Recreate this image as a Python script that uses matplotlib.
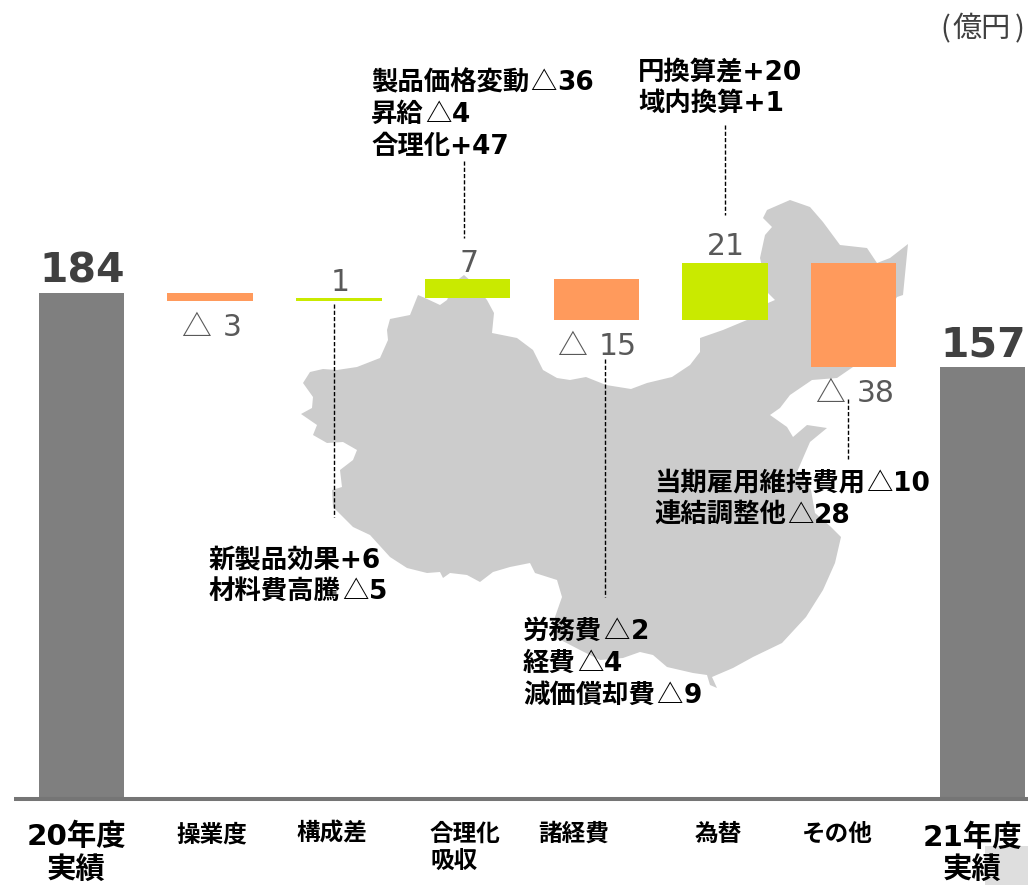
import matplotlib
matplotlib.use("Agg")
import matplotlib.pyplot as plt
from matplotlib.patches import Polygon, Rectangle

plt.rcParams['font.family'] = ['DejaVu Sans', 'Noto Sans CJK JP']

W, H = 1028, 885

# --- chart values (億円)
steps = ['20年度実績', '操業度', '構成差', '合理化吸収', '諸経費', '為替', 'その他', '21年度実績']
start_value = 184
deltas = [-3, 1, 7, -15, 21, -38]
end_value = 157
value_labels = ['184', '△ 3', '1', '7', '△ 15', '21', '△ 38', '157']

ORANGE = '#ff9a5c'
GREEN = '#c9ea00'
GRAY = '#7f7f7f'

# --- category labels: (text, x, y, size, ha)
category_text = [
    ('20年度', 76, 837, 21.2, 'center'), ('実績', 76, 870, 21.2, 'center'),
    ('操業度', 212, 834, 17, 'center'), ('構成差', 332, 834, 17, 'center'),
    ('合理化', 430, 834, 17, 'left'), ('吸収', 430, 861, 17, 'left'),
    ('諸経費', 574, 834, 17, 'center'), ('為替', 718, 834, 17, 'center'),
    ('その他', 837, 834, 17, 'center'),
    ('21年度', 972, 838, 21.2, 'center'), ('実績', 972, 870, 21.2, 'center'),
]

# --- breakdown notes: (left x, [(baseline y, text), ...])
notes = [
    (371, [(90, '製品価格変動△36'), (122, '昇給△4'), (154, '合理化+47')]),
    (638, [(79, '円換算差+20'), (111, '域内換算+1')]),
    (654, [(491, '当期雇用維持費用△10'), (523, '連結調整他△28')]),
    (209, [(567, '新製品効果+6'), (599, '材料費高騰△5')]),
    (523, [(639, '労務費△2'), (671, '経費△4'), (703, '減価償却費△9')]),
]

# --- dashed leader lines: (x, y top, y bottom)
leaders = [(334, 304, 517), (464, 161, 238), (605, 359, 597), (725, 125, 215), (848, 399, 459)]

# --- background map outline
map_outline = [
    (303, 383), (310, 372), (323, 369), (337, 370), (357, 367), (380, 358), (388, 340), (387, 330),
    (390, 319), (410, 315), (418, 295), (425, 298), (440, 305), (447, 300), (455, 282), (464, 275),
    (472, 282), (487, 300), (494, 313), (492, 333), (517, 338), (533, 350), (543, 370), (557, 378),
    (570, 380), (586, 377), (606, 385), (631, 389), (647, 383), (672, 377), (690, 365), (700, 352),
    (700, 338), (723, 330), (747, 320), (768, 303), (775, 300), (768, 293), (760, 258), (765, 235),
    (772, 227), (763, 218), (767, 210), (790, 200), (810, 207), (823, 222), (840, 245), (867, 248),
    (877, 263), (890, 258), (908, 244), (903, 295), (897, 297), (853, 367), (837, 378), (812, 380),
    (790, 395), (780, 408), (770, 415), (787, 427), (793, 437), (807, 425), (827, 428), (810, 442),
    (797, 472), (811, 490), (815, 513), (831, 527), (841, 537), (835, 563), (823, 590), (806, 617),
    (782, 643), (753, 657), (733, 668), (712, 677), (717, 688), (710, 685), (707, 675), (693, 673),
    (667, 667), (653, 655), (640, 652), (623, 658), (600, 660), (580, 650), (555, 637), (555, 617),
    (562, 597), (557, 580), (535, 573), (530, 563), (510, 567), (493, 572), (480, 582), (467, 575),
    (450, 573), (443, 578), (440, 572), (427, 573), (407, 568), (390, 557), (370, 535), (353, 527),
    (333, 507), (332, 490), (342, 487), (340, 470), (353, 460), (357, 450), (343, 442), (327, 443),
    (313, 435), (317, 425), (301, 414), (312, 408), (313, 397),
]

fig = plt.figure(figsize=(W / 100, H / 100), dpi=100)
renderer = fig.canvas.get_renderer()

# pixel-space layer for map and annotations
bg = fig.add_axes([0, 0, 1, 1], zorder=0)
bg.set_xlim(0, W)
bg.set_ylim(H, 0)
bg.axis('off')

bg.add_patch(Rectangle((985, 846), 43, 39, color='#dedede', lw=0))
bg.add_patch(Polygon(map_outline, closed=True, facecolor='#cccccc', edgecolor='none'))

for x, y0, y1 in leaders:
    bg.plot([x, x], [y0, y1], color='black', lw=1, dashes=(3, 1.5))

for text, x, y, size, ha in category_text:
    bg.text(x, y, text, fontsize=size, fontweight='bold', ha=ha, va='center', color='black')


def note_line(x, y, text, size=19):
    """Bold text with a thin full-width triangle set in the CJK face."""
    parts = text.split('△')
    for k, part in enumerate(parts):
        if k > 0:
            t = bg.text(x, y, '△', fontsize=size, family=['Noto Sans CJK JP'], color='black',
                        ha='left', va='baseline')
            x = t.get_window_extent(renderer).x1 + 1
        t = bg.text(x, y, part, fontsize=size, fontweight='bold', color='black', ha='left', va='baseline')
        x = t.get_window_extent(renderer).x1 + 1


for x, lines in notes:
    for y, text in lines:
        note_line(x, y, text)

for s, x in (('(', 945), ('億円', 982), (')', 1020)):
    bg.text(x, 29, s, fontsize=21, ha='center', va='center', color='#404040', family=['Noto Sans CJK JP'])

# value layer
SCALE = 2.745          # pixels per 億円
BASE_Y = 798           # pixel row of zero
STEP = 128.7           # pixels between categories
FIRST_X = 81.5

ax = fig.add_axes([0, 0, 1, 1], zorder=1)
ax.patch.set_alpha(0)
ax.set_xlim(-FIRST_X / STEP, (W - FIRST_X) / STEP)
ax.set_ylim((BASE_Y - H) / SCALE, BASE_Y / SCALE)
ax.axis('off')

bar_w = 0.665
ax.bar(0, start_value + 1, bottom=-1, width=bar_w, color=GRAY, lw=0)
level = start_value
tops, bottoms = [start_value], [0]
for i, d in enumerate(deltas, start=1):
    low, high = sorted((level, level + d))
    ax.bar(i, high - low, bottom=low, width=bar_w, color=GREEN if d > 0 else ORANGE, lw=0)
    tops.append(high)
    bottoms.append(low)
    level += d
ax.bar(len(steps) - 1, end_value + 1, bottom=-1, width=bar_w, color=GRAY, lw=0)
tops.append(end_value)
bottoms.append(0)

ax.plot([(14 - FIRST_X) / STEP, (W - FIRST_X) / STEP], [-0.3, -0.3], color='#757575', lw=2.9,
        solid_capstyle='butt')

for i, label in enumerate(value_labels):
    if i in (0, len(steps) - 1):
        ax.annotate(label, (i, tops[i]), xytext=(0.5, 1), textcoords='offset points', ha='center', va='bottom',
                    fontsize=29.5, fontweight='bold', color='#404040')
    elif deltas[i - 1] > 0:
        ax.annotate(label, (i, tops[i]), xytext=(0.7, 1), textcoords='offset points', ha='center', va='bottom',
                    fontsize=21.5, color='#595959')
    else:
        # triangle and digits set as two runs on one baseline below the bar
        digits = label.split(' ')[1]
        x_disp, y_disp = ax.transData.transform((i, bottoms[i]))
        y_px = H - y_disp + 34.5
        tri = bg.text(0, y_px, '△', fontsize=21.5, family=['Noto Sans CJK JP'], color='#595959',
                      ha='left', va='baseline')
        num = bg.text(0, y_px, digits, fontsize=21.5, color='#595959', ha='left', va='baseline')
        tw = tri.get_window_extent(renderer).width
        nw = num.get_window_extent(renderer).width
        gap = 12
        left = x_disp + 1 - (tw + gap + nw) / 2
        tri.set_x(left)
        num.set_x(left + tw + gap)

fig.savefig('out.png', dpi=100)
